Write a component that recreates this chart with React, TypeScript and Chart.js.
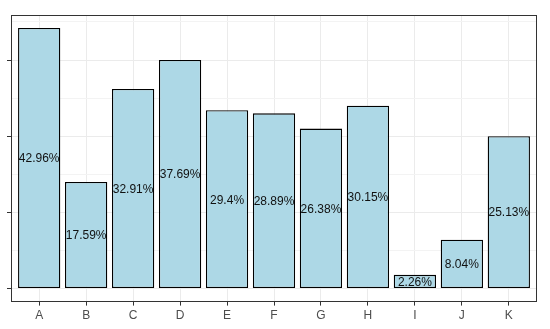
import React, { useEffect, useRef } from "react";
import { Chart, registerables } from "chart.js";

Chart.register(...registerables);

const categories = ["A", "B", "C", "D", "E", "F", "G", "H", "I", "J", "K"];
const counts = [171, 70, 131, 150, 117, 115, 105, 120, 9, 32, 100];
const percentLabels = ["42.96%", "17.59%", "32.91%", "37.69%", "29.4%", "28.89%", "26.38%", "30.15%", "2.26%", "8.04%", "25.13%"];
const yTickValues = [0, 25, 50, 75, 100, 125, 150, 175];

const FONT = "'Liberation Sans', Arial, sans-serif";

const panelPlugin = {
  id: "panelDecor",
  afterDatasetsDraw(chart: any) {
    const { ctx, chartArea } = chart;
    const meta = chart.getDatasetMeta(0);
    ctx.save();
    ctx.font = `12px ${FONT}`;
    ctx.fillStyle = "#111111";
    ctx.textAlign = "center";
    ctx.textBaseline = "middle";
    meta.data.forEach((bar: any, i: number) => {
      const midY = (bar.y + bar.base) / 2;
      ctx.fillText(percentLabels[i], bar.x, midY + 1);
    });
    ctx.strokeStyle = "#333333";
    ctx.lineWidth = 1;
    ctx.strokeRect(
      Math.round(chartArea.left) + 0.5,
      Math.round(chartArea.top) + 0.5,
      Math.round(chartArea.right - chartArea.left) - 1,
      Math.round(chartArea.bottom - chartArea.top) - 1
    );
    ctx.restore();
  },
};

export default function App() {
  const ref = useRef<HTMLCanvasElement | null>(null);
  useEffect(() => {
    if (!ref.current) return;
    const chart = new Chart(ref.current, {
      type: "bar",
      data: {
        datasets: [
          {
            data: counts.map((c, i) => ({ x: i, y: c })),
            backgroundColor: "#ADD8E6",
            borderColor: "#000000",
            borderWidth: 1.3,
            borderSkipped: false,
            barPercentage: 0.9,
            categoryPercentage: 1,
          },
        ],
      },
      options: {
        animation: false,
        responsive: false,
        devicePixelRatio: 1,
        layout: { padding: { left: 7, top: 15, right: 13, bottom: 3 } },
        plugins: { legend: { display: false }, tooltip: { enabled: false } },
        scales: {
          x: {
            type: "linear",
            min: -0.6,
            max: 10.6,
            offset: false,
            afterBuildTicks: (scale: any) => {
              scale.ticks = categories.map((_, i) => ({ value: i }));
            },
            ticks: {
              autoSkip: false,
              maxRotation: 0,
              padding: 3,
              color: "#4D4D4D",
              font: { family: FONT, size: 12 },
              callback: (v: any) => categories[v as number] ?? "",
            },
            grid: {
              offset: false,
              color: "#EBEBEB",
              lineWidth: 1,
              tickLength: 4,
              tickColor: "#333333",
            },
            border: { display: false },
          },
          y: {
            type: "linear",
            min: -8.55,
            max: 179.55,
            afterBuildTicks: (scale: any) => {
              scale.ticks = yTickValues.map((v) => ({ value: v }));
            },
            ticks: { display: false },
            grid: {
              color: (c: any) => (c.tick && c.tick.value % 50 === 0 ? "#EBEBEB" : "#F3F3F3"),
              lineWidth: 1,
              tickLength: 4,
              tickColor: (c: any) => (c.tick && c.tick.value % 50 === 0 ? "#333333" : "rgba(0,0,0,0)"),
            },
            border: { display: false },
          },
        },
      },
      plugins: [panelPlugin],
    } as any);
    return () => chart.destroy();
  }, []);
  return (
    <canvas
      ref={ref}
      width={550}
      height={329}
      style={{ position: "fixed", left: 0, top: 0, width: 550, height: 329 }}
    />
  );
}
